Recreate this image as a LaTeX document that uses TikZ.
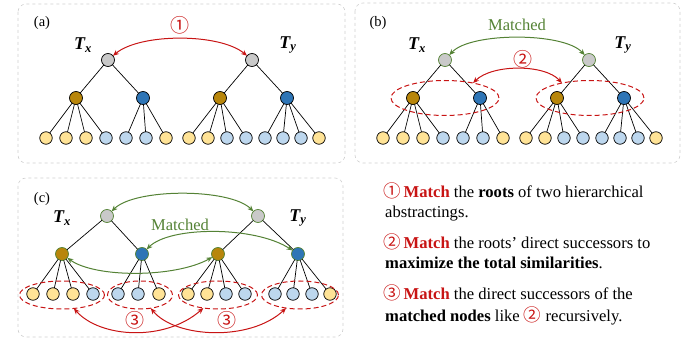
\documentclass[tikz,border=0pt]{standalone}
\usepackage{fontspec}
\setmainfont{Liberation Serif}
\newfontfamily\circfont{Noto Sans CJK SC}
\usetikzlibrary{shapes.geometric,arrows.meta}

\definecolor{matchred}{HTML}{C81414}
\definecolor{matchgreen}{HTML}{548235}
\definecolor{rootgray}{HTML}{C9C9C9}
\definecolor{midgold}{HTML}{B8860B}
\definecolor{midblue}{HTML}{2E75B6}
\definecolor{leafyellow}{HTML}{FFE396}
\definecolor{leafblue}{HTML}{BDD7EE}
\definecolor{panelgray}{HTML}{D0D0D0}

% circled step numbers, in red: in the panels and in the running text
\newcommand\stepnum[1]{{\circfont\fontsize{19}{19}\selectfont\color{matchred}#1}}
\newcommand\stepnumtxt[1]{{\circfont\fontsize{17.5}{17.5}\selectfont\color{matchred}#1}}

\tikzset{
  tn/.style={circle, draw=black, line width=0.7pt, minimum size=13pt, inner sep=0pt, outer sep=0pt},
  rootn/.style={tn, fill=rootgray},
  goldn/.style={tn, fill=midgold},
  bluen/.style={tn, fill=midblue},
  ly/.style={tn, fill=leafyellow, minimum size=12.5pt},
  lb/.style={tn, fill=leafblue, minimum size=12.5pt},
  greenrim/.style={draw=matchgreen},
  link/.style={line width=0.7pt, black},
  panel/.style={draw=panelgray, dashed, rounded corners=8pt, line width=0.6pt},
  grp/.style={ellipse, draw=matchred, dash pattern=on 5pt off 3pt, line width=1pt, inner sep=0pt, outer sep=0pt},
  redarc/.style={matchred, line width=1pt, {Stealth[length=6pt,width=5pt]}-{Stealth[length=6pt,width=5pt]}},
  greenarc/.style={matchgreen, line width=1pt, {Stealth[length=6pt,width=5pt]}-{Stealth[length=6pt,width=5pt]}},
  tlab/.style={font=\fontsize{18}{18}\selectfont\bfseries\itshape, inner sep=0pt},
  plab/.style={font=\fontsize{14.5}{14.5}\selectfont, inner sep=0pt},
  greentxt/.style={font=\fontsize{16.5}{16.5}\selectfont, text=matchgreen, inner sep=0pt},
  circnum/.style={inner sep=0pt},
  body/.style={font=\fontsize{16.6}{19}\selectfont, anchor=base west, inner sep=0pt},
}

% two trees of the first layout, used for panels (a) and (b)
\newcommand\abtree[3]{%
  \node[rootn,#2] (#1rx) at (108,60) {};
  \node[rootn,#2] (#1ry) at (252,60) {};
  \node[goldn,#3] (#1gx) at (76,98) {};
  \node[bluen,#3] (#1bx) at (143,98) {};
  \node[goldn,#3] (#1gy) at (220,98) {};
  \node[bluen,#3] (#1by) at (287,98) {};
  \foreach \k/\px/\s in {1/46/ly,2/66/ly,3/86/ly,4/106/lb,5/126/lb,6/146/lb,7/166/ly}
    \node[\s] (#1lx\k) at (\px,138) {};
  \foreach \k/\px/\s in {1/189/ly,2/208/ly,3/227/lb,4/246/lb,5/265/lb,6/283/lb,7/301/lb,8/319/ly}
    \node[\s] (#1ly\k) at (\px,138) {};
  \draw[link] (#1rx) -- (#1gx);
  \draw[link] (#1rx) -- (#1bx);
  \draw[link] (#1ry) -- (#1gy);
  \draw[link] (#1ry) -- (#1by);
  \foreach \k in {1,...,4} \draw[link] (#1gx) -- (#1lx\k);
  \foreach \k in {5,6,7} \draw[link] (#1bx) -- (#1lx\k);
  \foreach \k in {1,...,4} \draw[link] (#1gy) -- (#1ly\k);
  \foreach \k in {5,...,8} \draw[link] (#1by) -- (#1ly\k);
}

\begin{document}
\begin{tikzpicture}[x=1pt,y=-1pt]
\useasboundingbox (0,0) rectangle (697,339);

% panel frames
\draw[panel] (18,4) rectangle (345,163);
\draw[panel] (355,3) rectangle (680,163);
\draw[panel] (18,178) rectangle (343,337);

% ---------- (a) ----------
\node[plab] (alab) at (42,23) {(a)};
\abtree{a-}{}{}
\node[tlab] (a-tx) at (83,45) {T\textsubscript{x}};
\node[tlab] (a-ty) at (288,45) {T\textsubscript{y}};
\node[circnum] (a-n1) at (180,25) {\stepnum{①}};
\draw[redarc] (a-rx) .. controls (140,33) and (220,33) .. (a-ry);

% ---------- (b) ----------
\begin{scope}[xshift=337pt]
\node[plab] (blab) at (41,23) {(b)};
\abtree{b-}{greenrim}{}
\node[tlab] (b-tx) at (80,45) {T\textsubscript{x}};
\node[tlab] (b-ty) at (286,45) {T\textsubscript{y}};
\node[greentxt] (b-m) at (180,25) {Matched};
\draw[greenarc] (b-rx) .. controls (133,32) and (227,32) .. (b-ry);
\node[grp, minimum width=108pt, minimum height=35pt] (b-ex) at (108,98) {};
\node[grp, minimum width=108pt, minimum height=35pt] (b-ey) at (253,98) {};
\node[circnum] (b-n2) at (186,59) {\stepnum{②}};
\draw[redarc] (b-ex.28) .. controls (155,64) and (208,64) .. (b-ey.152);
\end{scope}

% ---------- (c) ----------
\node[plab] (clab) at (42,199) {(c)};
\node[rootn,greenrim] (c-rx) at (107,216) {};
\node[rootn,greenrim] (c-ry) at (258,216) {};
\node[goldn,greenrim] (c-gx) at (62,254) {};
\node[bluen,greenrim] (c-bx) at (142,254) {};
\node[goldn,greenrim] (c-gy) at (218,254) {};
\node[bluen,greenrim] (c-by) at (298,254) {};
\foreach \k/\px/\s in {1/33/ly,2/53/ly,3/73/ly,4/93/lb,5/118/lb,6/138/lb,7/159/ly}
  \node[\s] (c-lx\k) at (\px,294) {};
\foreach \k/\px/\s in {1/188/ly,2/207/ly,3/226/lb,4/245/lb,5/275/lb,6/293/lb,7/312/lb,8/330/ly}
  \node[\s] (c-ly\k) at (\px,294) {};
\draw[link] (c-rx) -- (c-gx);
\draw[link] (c-rx) -- (c-bx);
\draw[link] (c-ry) -- (c-gy);
\draw[link] (c-ry) -- (c-by);
\foreach \k in {1,...,4} \draw[link] (c-gx) -- (c-lx\k);
\foreach \k in {5,6,7} \draw[link] (c-bx) -- (c-lx\k);
\foreach \k in {1,...,4} \draw[link] (c-gy) -- (c-ly\k);
\foreach \k in {5,...,8} \draw[link] (c-by) -- (c-ly\k);
\node[tlab] (c-tx) at (62,218) {T\textsubscript{x}};
\node[tlab] (c-ty) at (298,218) {T\textsubscript{y}};

\node[grp, minimum width=85pt, minimum height=28pt] (c-e1) at (62,295) {};
\node[grp, minimum width=65pt, minimum height=28pt] (c-e2) at (140,295) {};
\node[grp, minimum width=79pt, minimum height=28pt] (c-e3) at (218,295) {};
\node[grp, minimum width=77pt, minimum height=28pt] (c-e4) at (300,295) {};

\draw[greenarc] (c-rx) .. controls (135,188) and (230,188) .. (c-ry);
\node[greentxt] (c-m) at (180,225) {Matched};
\draw[greenarc] (c-bx) .. controls (170,226) and (255,226) .. (c-by);
\draw[greenarc] (c-gx) .. controls (95,278) and (175,278) .. (c-gy);

\draw[redarc] (c-e1) .. controls (100,338) and (165,342) .. (c-e3);
\draw[redarc] (c-e2) .. controls (175,338) and (250,342) .. (c-e4);
\node[circnum] (c-n3a) at (135,320) {\stepnum{③}};
\node[circnum] (c-n3b) at (227,320) {\stepnum{③}};

% ---------- explanation ----------
\node[body] (t1) at (383,198) {\stepnumtxt{①}\hspace{3pt}\textbf{\color{matchred}Match} the \textbf{roots} of two hierarchical};
\node[body] (t2) at (385,218) {abstractings.};
\node[body] (t3) at (383,249) {\stepnumtxt{②}\hspace{3pt}\textbf{\color{matchred}Match} the roots’ direct successors to};
\node[body] (t4) at (385,269) {\textbf{maximize the total similarities}.};
\node[body] (t5) at (383,300) {\stepnumtxt{③}\hspace{3pt}\textbf{\color{matchred}Match} the direct successors of the};
\node[body] (t6) at (385,322) {\textbf{matched nodes} like \stepnumtxt{②} recursively.};
\end{tikzpicture}
\end{document}
